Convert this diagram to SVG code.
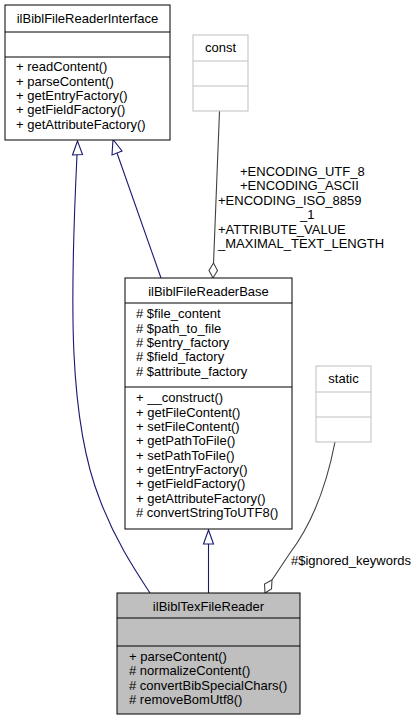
<svg xmlns="http://www.w3.org/2000/svg" width="417" height="720" viewBox="0 0 417 720">
<style>
text{font-family:"Liberation Sans",Arial,Helvetica,sans-serif;font-size:13px;fill:#000}
.c{text-anchor:middle}
.box{fill:#fff;stroke:#000;stroke-width:1}
.cur{fill:#bfbfbf;stroke:#000;stroke-width:1}
.grey{fill:#fff;stroke:#bfbfbf;stroke-width:1}
.sep{stroke:#000;stroke-width:1}
.gsep{stroke:#bfbfbf;stroke-width:1}
.inh{fill:none;stroke:#191970;stroke-width:1.1}
.inhA{fill:#fff;stroke:#191970;stroke-width:1.1}
.use{fill:none;stroke:#404040;stroke-width:1.1}
.useA{fill:#fff;stroke:#404040;stroke-width:1.1}
</style>
<rect width="417" height="720" fill="#fff"/>
<g id="edges">
<path class="inh" d="M77,155 C70,300 68,420 100,500 C115,540 135,570 150,593"/>
<polygon class="inhA" points="77.5,141 72.5,155 82.5,154.5"/>
<path class="inh" d="M117,153 L161,278"/>
<polygon class="inhA" points="113,139.5 112,155 122,151"/>
<path class="inh" d="M208.5,544 L208.5,593"/>
<polygon class="inhA" points="208.5,530 203.5,544 213.5,544"/>
<path class="use" d="M219.5,111 L213.5,264"/>
<polygon class="useA" points="213.5,263 209,270.5 213,278 217.5,270.5"/>
<path class="use" d="M335,442 C328,478 315,520 290,553 C284,562 278,571 272,580"/>
<polygon class="useA" points="272,580 264.5,584 265,593 271.5,589"/>
<text x="240" y="176">+ENCODING_UTF_8</text>
<text x="240" y="190">+ENCODING_ASCII</text>
<text x="218" y="204.5">+ENCODING_ISO_8859</text>
<text x="300" y="218.5">_1</text>
<text x="218" y="234">+ATTRIBUTE_VALUE</text>
<text x="218" y="247.5">_MAXIMAL_TEXT_LENGTH</text>
<text x="291" y="565">#$ignored_keywords</text>
</g>
<g id="interface">
<rect class="box" x="5" y="5" width="165" height="135"/>
<line class="sep" x1="5" y1="32" x2="170" y2="32"/>
<line class="sep" x1="5" y1="57" x2="170" y2="57"/>
<text class="c" x="87.5" y="23">ilBiblFileReaderInterface</text>
<text x="16" y="71">+ readContent()</text>
<text x="16" y="85.5">+ parseContent()</text>
<text x="16" y="100">+ getEntryFactory()</text>
<text x="16" y="114">+ getFieldFactory()</text>
<text x="16" y="128.5">+ getAttributeFactory()</text>
</g>
<g id="const">
<rect class="grey" x="193" y="35" width="55" height="76"/>
<line class="gsep" x1="193" y1="61" x2="248" y2="61"/>
<line class="gsep" x1="193" y1="86" x2="248" y2="86"/>
<text class="c" x="220.5" y="52">const</text>
</g>
<g id="base">
<rect class="box" x="125" y="278" width="167" height="251"/>
<line class="sep" x1="125" y1="303" x2="292" y2="303"/>
<line class="sep" x1="125" y1="387" x2="292" y2="387"/>
<text class="c" x="208.5" y="296">ilBiblFileReaderBase</text>
<text x="136" y="318">#&#160;$file_content</text>
<text x="136" y="332.5">#&#160;$path_to_file</text>
<text x="136" y="347">#&#160;$entry_factory</text>
<text x="136" y="361">#&#160;$field_factory</text>
<text x="136" y="375.5">#&#160;$attribute_factory</text>
<text x="136" y="402">+ __construct()</text>
<text x="136" y="416.5">+ getFileContent()</text>
<text x="136" y="431">+ setFileContent()</text>
<text x="136" y="445">+ getPathToFile()</text>
<text x="136" y="459.5">+ setPathToFile()</text>
<text x="136" y="474">+ getEntryFactory()</text>
<text x="136" y="488">+ getFieldFactory()</text>
<text x="136" y="502.5">+ getAttributeFactory()</text>
<text x="136" y="517">#&#160;convertStringToUTF8()</text>
</g>
<g id="static">
<rect class="grey" x="316" y="366" width="55" height="76"/>
<line class="gsep" x1="316" y1="392" x2="371" y2="392"/>
<line class="gsep" x1="316" y1="417" x2="371" y2="417"/>
<text class="c" x="343.5" y="383">static</text>
</g>
<g id="texreader">
<rect class="cur" x="117" y="593" width="183" height="121"/>
<line class="sep" x1="117" y1="618" x2="300" y2="618"/>
<line class="sep" x1="117" y1="646" x2="300" y2="646"/>
<text class="c" x="208.5" y="611">ilBiblTexFileReader</text>
<text x="129" y="661">+ parseContent()</text>
<text x="129" y="675">#&#160;normalizeContent()</text>
<text x="129" y="689.5">#&#160;convertBibSpecialChars()</text>
<text x="129" y="704">#&#160;removeBomUtf8()</text>
</g>
</svg>
